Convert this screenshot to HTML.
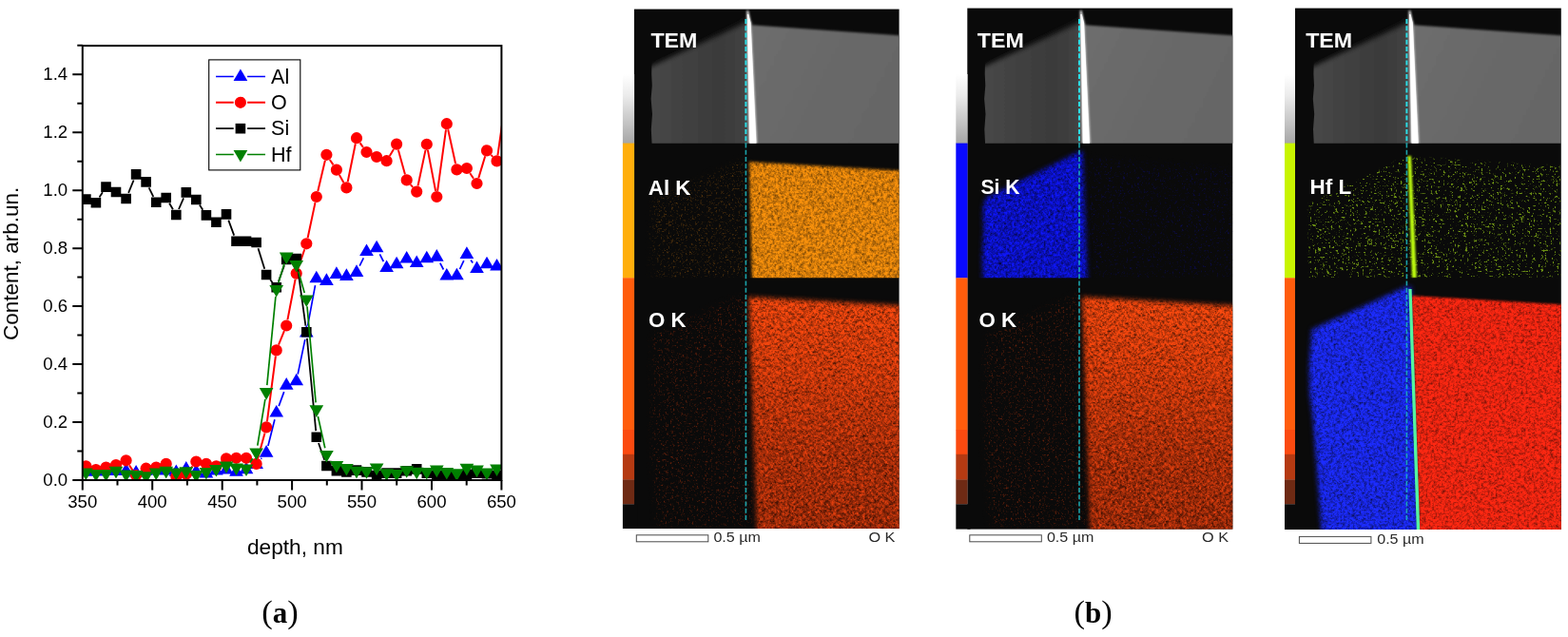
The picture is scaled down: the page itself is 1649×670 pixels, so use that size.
<!DOCTYPE html>
<html lang="en">
<head>
<meta charset="utf-8">
<title>Figure: depth profile and TEM/EDX maps</title>
<style>
html,body{margin:0;padding:0;background:#fff;}
body{width:1649px;height:670px;overflow:hidden;position:relative;font-family:"Liberation Sans",Arial,sans-serif;}
svg{position:absolute;left:0;top:0;display:block;}
</style>
</head>
<body>
<svg width="1649" height="670" viewBox="0 0 1649 670">
<defs>
<filter id="nOrange" x="-5%" y="-5%" width="110%" height="110%" color-interpolation-filters="sRGB"><feTurbulence type="fractalNoise" baseFrequency="0.6" numOctaves="2" seed="3" result="n"/><feGaussianBlur in="n" stdDeviation="0.8" result="nbl"/><feComposite in="n" in2="nbl" operator="arithmetic" k1="0" k2="0.25" k3="0.75" k4="0" result="nb"/><feColorMatrix in="nb" type="matrix" values="2.8 0 0 0 -0.56  2.8 0 0 0 -0.56  2.8 0 0 0 -0.56  0 0 0 0 1" result="m"/><feGaussianBlur in="SourceGraphic" stdDeviation="1.6" result="s"/><feComposite in="m" in2="s" operator="arithmetic" k1="1" k2="0" k3="0" k4="0"/></filter>
<filter id="nRed" x="-5%" y="-5%" width="110%" height="110%" color-interpolation-filters="sRGB"><feTurbulence type="fractalNoise" baseFrequency="0.6" numOctaves="2" seed="7" result="n"/><feGaussianBlur in="n" stdDeviation="0.8" result="nbl"/><feComposite in="n" in2="nbl" operator="arithmetic" k1="0" k2="0.25" k3="0.75" k4="0" result="nb"/><feColorMatrix in="nb" type="matrix" values="3.8 0 0 0 -1.08  3.8 0 0 0 -1.08  3.8 0 0 0 -1.08  0 0 0 0 1" result="m"/><feGaussianBlur in="SourceGraphic" stdDeviation="2.4" result="s"/><feComposite in="m" in2="s" operator="arithmetic" k1="1" k2="0" k3="0" k4="0"/></filter>
<filter id="nRed3" x="-5%" y="-5%" width="110%" height="110%" color-interpolation-filters="sRGB"><feTurbulence type="fractalNoise" baseFrequency="0.6" numOctaves="2" seed="11" result="n"/><feGaussianBlur in="n" stdDeviation="0.8" result="nbl"/><feComposite in="n" in2="nbl" operator="arithmetic" k1="0" k2="0.25" k3="0.75" k4="0" result="nb"/><feColorMatrix in="nb" type="matrix" values="3.0 0 0 0 -0.62  3.0 0 0 0 -0.62  3.0 0 0 0 -0.62  0 0 0 0 1" result="m"/><feGaussianBlur in="SourceGraphic" stdDeviation="1.2" result="s"/><feComposite in="m" in2="s" operator="arithmetic" k1="1" k2="0" k3="0" k4="0"/></filter>
<filter id="nBlue" x="-5%" y="-5%" width="110%" height="110%" color-interpolation-filters="sRGB"><feTurbulence type="fractalNoise" baseFrequency="0.6" numOctaves="2" seed="5" result="n"/><feGaussianBlur in="n" stdDeviation="0.8" result="nbl"/><feComposite in="n" in2="nbl" operator="arithmetic" k1="0" k2="0.25" k3="0.75" k4="0" result="nb"/><feColorMatrix in="nb" type="matrix" values="3.4 0 0 0 -0.86  3.4 0 0 0 -0.86  3.4 0 0 0 -0.86  0 0 0 0 1" result="m"/><feGaussianBlur in="SourceGraphic" stdDeviation="2.4" result="s"/><feComposite in="m" in2="s" operator="arithmetic" k1="1" k2="0" k3="0" k4="0"/></filter>
<filter id="nBlueK" x="-5%" y="-5%" width="110%" height="110%" color-interpolation-filters="sRGB"><feTurbulence type="fractalNoise" baseFrequency="0.6" numOctaves="2" seed="9" result="n"/><feGaussianBlur in="n" stdDeviation="0.8" result="nbl"/><feComposite in="n" in2="nbl" operator="arithmetic" k1="0" k2="0.25" k3="0.75" k4="0" result="nb"/><feColorMatrix in="nb" type="matrix" values="3.2 0 0 0 -0.86  3.2 0 0 0 -0.86  3.2 0 0 0 -0.86  0 0 0 0 1" result="m"/><feGaussianBlur in="SourceGraphic" stdDeviation="2.6" result="s"/><feComposite in="m" in2="s" operator="arithmetic" k1="1" k2="0" k3="0" k4="0"/></filter>
<filter id="dDark" x="-5%" y="-5%" width="110%" height="110%" color-interpolation-filters="sRGB"><feTurbulence type="fractalNoise" baseFrequency="0.6" numOctaves="2" seed="29" result="n"/><feGaussianBlur in="n" stdDeviation="0.8" result="nbl"/><feComposite in="n" in2="nbl" operator="arithmetic" k1="0" k2="0.2" k3="0.8" k4="0" result="nb"/><feColorMatrix in="nb" type="matrix" values="0 0 0 0 1  0 0 0 0 1  0 0 0 0 1  5.0 0 0 0 -2.2" result="m"/><feGaussianBlur in="SourceGraphic" stdDeviation="2.4" result="s"/><feComposite in="s" in2="m" operator="in"/></filter>
<linearGradient id="gDark" x1="0" y1="0" x2="0" y2="1"><stop offset="0" stop-color="#1a0500" stop-opacity="0"/><stop offset="0.3" stop-color="#1a0500" stop-opacity="0.15"/><stop offset="0.7" stop-color="#1a0500" stop-opacity="0.6"/><stop offset="1" stop-color="#1a0500" stop-opacity="0.75"/></linearGradient>
<linearGradient id="gOK" x1="0" y1="0" x2="0" y2="1"><stop offset="0" stop-color="#ff4c10"/><stop offset="0.3" stop-color="#f6460e"/><stop offset="0.65" stop-color="#e6400e"/><stop offset="1" stop-color="#e03e0e"/></linearGradient>
<filter id="dOrange" x="-5%" y="-5%" width="110%" height="110%" color-interpolation-filters="sRGB"><feTurbulence type="fractalNoise" baseFrequency="0.6" numOctaves="2" seed="13" result="n"/><feGaussianBlur in="n" stdDeviation="0.8" result="nbl"/><feComposite in="n" in2="nbl" operator="arithmetic" k1="0" k2="0.4" k3="0.6" k4="0" result="nb"/><feColorMatrix in="nb" type="matrix" values="0 0 0 0 1  0 0 0 0 1  0 0 0 0 1  5.0 0 0 0 -2.62" result="m"/><feGaussianBlur in="SourceGraphic" stdDeviation="3" result="s"/><feComposite in="s" in2="m" operator="in"/></filter>
<filter id="dRed" x="-5%" y="-5%" width="110%" height="110%" color-interpolation-filters="sRGB"><feTurbulence type="fractalNoise" baseFrequency="0.6" numOctaves="2" seed="17" result="n"/><feGaussianBlur in="n" stdDeviation="0.8" result="nbl"/><feComposite in="n" in2="nbl" operator="arithmetic" k1="0" k2="0.4" k3="0.6" k4="0" result="nb"/><feColorMatrix in="nb" type="matrix" values="0 0 0 0 1  0 0 0 0 1  0 0 0 0 1  5.0 0 0 0 -2.62" result="m"/><feGaussianBlur in="SourceGraphic" stdDeviation="3" result="s"/><feComposite in="s" in2="m" operator="in"/></filter>
<filter id="dBlue" x="-5%" y="-5%" width="110%" height="110%" color-interpolation-filters="sRGB"><feTurbulence type="fractalNoise" baseFrequency="0.6" numOctaves="2" seed="19" result="n"/><feGaussianBlur in="n" stdDeviation="0.8" result="nbl"/><feComposite in="n" in2="nbl" operator="arithmetic" k1="0" k2="0.4" k3="0.6" k4="0" result="nb"/><feColorMatrix in="nb" type="matrix" values="0 0 0 0 1  0 0 0 0 1  0 0 0 0 1  5.0 0 0 0 -2.66" result="m"/><feGaussianBlur in="SourceGraphic" stdDeviation="3" result="s"/><feComposite in="s" in2="m" operator="in"/></filter>
<filter id="dGreen" x="-5%" y="-5%" width="110%" height="110%" color-interpolation-filters="sRGB"><feTurbulence type="fractalNoise" baseFrequency="0.6" numOctaves="2" seed="23" result="n"/><feGaussianBlur in="n" stdDeviation="0.8" result="nbl"/><feComposite in="n" in2="nbl" operator="arithmetic" k1="0" k2="0.25" k3="0.75" k4="0" result="nb"/><feColorMatrix in="nb" type="matrix" values="0 0 0 0 1  0 0 0 0 1  0 0 0 0 1  18.0 0 0 0 -9.75" result="m"/><feGaussianBlur in="SourceGraphic" stdDeviation="0.8" result="s"/><feComposite in="s" in2="m" operator="in"/></filter>
<filter id="b06" x="-20%" y="-5%" width="140%" height="110%"><feGaussianBlur stdDeviation="0.8"/></filter>
<filter id="b1" x="-20%" y="-5%" width="140%" height="110%"><feGaussianBlur stdDeviation="1"/></filter>
<filter id="b2" x="-10%" y="-10%" width="120%" height="120%"><feGaussianBlur stdDeviation="2"/></filter>
<filter id="b3" x="-10%" y="-10%" width="120%" height="120%"><feGaussianBlur stdDeviation="2.6"/></filter>
<filter id="b4" x="-10%" y="-10%" width="120%" height="120%"><feGaussianBlur stdDeviation="4"/></filter>
<filter id="tb" x="-10%" y="-20%" width="120%" height="140%"><feGaussianBlur stdDeviation="0.8"/></filter>
<linearGradient id="gbar" x1="0" y1="0" x2="0" y2="1"><stop offset="0" stop-color="#ffffff"/><stop offset="0.3" stop-color="#ececec"/><stop offset="1" stop-color="#a6a6a6"/></linearGradient>
<linearGradient id="gSi" x1="0" y1="0" x2="1" y2="0"><stop offset="0" stop-color="#464646"/><stop offset="0.1" stop-color="#464646"/><stop offset="0.4" stop-color="#404040"/><stop offset="0.66" stop-color="#3a3a3a"/><stop offset="0.85" stop-color="#404040"/><stop offset="1" stop-color="#4e4e4e"/></linearGradient>
<linearGradient id="gAl" x1="0" y1="0" x2="1" y2="0.4"><stop offset="0" stop-color="#6e6e6e"/><stop offset="0.5" stop-color="#696969"/><stop offset="1" stop-color="#666666"/></linearGradient>
</defs>
<rect x="0" y="0" width="1649" height="670" fill="#fff"/>
<clipPath id="plotclip"><rect x="86.8" y="48.1" width="440.59999999999997" height="457.5"/></clipPath>
<g clip-path="url(#plotclip)">
<path d="M274.4 482.8L275.3 481.8M281.9 469.0L288.9 441.2M293.2 427.1L298.7 412.1M313.2 393.6L320.8 357.2M323.6 342.7L331.5 300.1M378.2 279.7L382.3 271.3M399.4 267.4L403.3 275.0M462.8 276.7L466.4 283.5M483.5 283.1L487.8 274.1M495.1 273.5L497.2 276.5" stroke="#0000ff" stroke-width="1.7" fill="none"/><path d="M90.4 488.1l7.35 12.6h-14.7zM100.9 487.9l7.35 12.6h-14.7zM111.5 487.5l7.35 12.6h-14.7zM122.0 487.5l7.35 12.6h-14.7zM132.6 487.1l7.35 12.6h-14.7zM143.1 489.0l7.35 12.6h-14.7zM153.6 487.2l7.35 12.6h-14.7zM164.2 485.9l7.35 12.6h-14.7zM174.7 486.9l7.35 12.6h-14.7zM185.3 488.4l7.35 12.6h-14.7zM195.8 485.1l7.35 12.6h-14.7zM206.3 487.9l7.35 12.6h-14.7zM216.9 489.9l7.35 12.6h-14.7zM227.4 486.9l7.35 12.6h-14.7zM238.0 485.9l7.35 12.6h-14.7zM248.5 488.1l7.35 12.6h-14.7zM259.0 485.7l7.35 12.6h-14.7zM269.6 480.3l7.35 12.6h-14.7zM280.1 468.1l7.35 12.6h-14.7zM290.7 425.9l7.35 12.6h-14.7zM301.2 397.1l7.35 12.6h-14.7zM311.7 392.7l7.35 12.6h-14.7zM322.3 341.9l7.35 12.6h-14.7zM332.8 284.7l7.35 12.6h-14.7zM343.4 287.3l7.35 12.6h-14.7zM353.9 280.3l7.35 12.6h-14.7zM364.4 282.3l7.35 12.6h-14.7zM375.0 278.3l7.35 12.6h-14.7zM385.5 256.5l7.35 12.6h-14.7zM396.1 252.7l7.35 12.6h-14.7zM406.6 273.5l7.35 12.6h-14.7zM417.1 269.7l7.35 12.6h-14.7zM427.7 263.9l7.35 12.6h-14.7zM438.2 268.5l7.35 12.6h-14.7zM448.8 263.7l7.35 12.6h-14.7zM459.3 262.1l7.35 12.6h-14.7zM469.8 281.9l7.35 12.6h-14.7zM480.4 281.7l7.35 12.6h-14.7zM490.9 259.3l7.35 12.6h-14.7zM501.5 274.5l7.35 12.6h-14.7zM512.0 269.7l7.35 12.6h-14.7zM522.5 271.9l7.35 12.6h-14.7zM533.1 270.9l7.35 12.6h-14.7z" fill="#0000ff"/>
<path d="M136.0 489.4L139.6 494.9M178.6 492.8L181.4 496.3M199.7 493.9L202.5 490.4M232.4 486.6L233.0 486.1M271.2 481.9L278.5 455.4M280.9 443.3L289.9 374.5M293.0 362.7L298.9 348.2M302.4 336.4L310.6 293.7M313.7 281.7L320.3 262.2M323.6 250.2L331.5 213.1M334.3 201.0L341.9 168.8M346.8 168.0L350.5 173.4M356.9 184.0L361.4 192.0M365.7 191.3L373.8 151.3M378.6 150.3L381.9 154.9M409.8 163.9L414.0 156.9M418.8 157.6L426.0 183.4M431.7 194.1L434.2 196.9M439.5 195.5L447.5 157.9M449.9 157.9L458.1 200.9M460.1 200.9L469.0 136.3M471.2 136.3L479.1 172.3M494.3 182.2L498.0 187.8M503.3 187.1L510.2 164.3M516.3 162.9L518.3 164.9M523.4 163.3L532.2 102.1" stroke="#ff0000" stroke-width="2" fill="none"/><path d="M84.3 490.3a6.1 6.1 0 1 0 12.2 0a6.1 6.1 0 1 0 -12.2 0zM94.8 494.0a6.1 6.1 0 1 0 12.2 0a6.1 6.1 0 1 0 -12.2 0zM105.4 491.5a6.1 6.1 0 1 0 12.2 0a6.1 6.1 0 1 0 -12.2 0zM115.9 489.1a6.1 6.1 0 1 0 12.2 0a6.1 6.1 0 1 0 -12.2 0zM126.5 484.3a6.1 6.1 0 1 0 12.2 0a6.1 6.1 0 1 0 -12.2 0zM137.0 500.0a6.1 6.1 0 1 0 12.2 0a6.1 6.1 0 1 0 -12.2 0zM147.5 492.7a6.1 6.1 0 1 0 12.2 0a6.1 6.1 0 1 0 -12.2 0zM158.1 491.5a6.1 6.1 0 1 0 12.2 0a6.1 6.1 0 1 0 -12.2 0zM168.6 487.9a6.1 6.1 0 1 0 12.2 0a6.1 6.1 0 1 0 -12.2 0zM179.2 501.2a6.1 6.1 0 1 0 12.2 0a6.1 6.1 0 1 0 -12.2 0zM189.7 498.8a6.1 6.1 0 1 0 12.2 0a6.1 6.1 0 1 0 -12.2 0zM200.2 485.5a6.1 6.1 0 1 0 12.2 0a6.1 6.1 0 1 0 -12.2 0zM210.8 487.9a6.1 6.1 0 1 0 12.2 0a6.1 6.1 0 1 0 -12.2 0zM221.3 490.3a6.1 6.1 0 1 0 12.2 0a6.1 6.1 0 1 0 -12.2 0zM231.9 482.4a6.1 6.1 0 1 0 12.2 0a6.1 6.1 0 1 0 -12.2 0zM242.4 481.8a6.1 6.1 0 1 0 12.2 0a6.1 6.1 0 1 0 -12.2 0zM252.9 481.8a6.1 6.1 0 1 0 12.2 0a6.1 6.1 0 1 0 -12.2 0zM263.5 487.9a6.1 6.1 0 1 0 12.2 0a6.1 6.1 0 1 0 -12.2 0zM274.0 449.4a6.1 6.1 0 1 0 12.2 0a6.1 6.1 0 1 0 -12.2 0zM284.6 368.4a6.1 6.1 0 1 0 12.2 0a6.1 6.1 0 1 0 -12.2 0zM295.1 342.5a6.1 6.1 0 1 0 12.2 0a6.1 6.1 0 1 0 -12.2 0zM305.6 287.6a6.1 6.1 0 1 0 12.2 0a6.1 6.1 0 1 0 -12.2 0zM316.2 256.3a6.1 6.1 0 1 0 12.2 0a6.1 6.1 0 1 0 -12.2 0zM326.7 207.0a6.1 6.1 0 1 0 12.2 0a6.1 6.1 0 1 0 -12.2 0zM337.3 162.8a6.1 6.1 0 1 0 12.2 0a6.1 6.1 0 1 0 -12.2 0zM347.8 178.6a6.1 6.1 0 1 0 12.2 0a6.1 6.1 0 1 0 -12.2 0zM358.3 197.4a6.1 6.1 0 1 0 12.2 0a6.1 6.1 0 1 0 -12.2 0zM368.9 145.2a6.1 6.1 0 1 0 12.2 0a6.1 6.1 0 1 0 -12.2 0zM379.4 160.0a6.1 6.1 0 1 0 12.2 0a6.1 6.1 0 1 0 -12.2 0zM390.0 165.0a6.1 6.1 0 1 0 12.2 0a6.1 6.1 0 1 0 -12.2 0zM400.5 169.2a6.1 6.1 0 1 0 12.2 0a6.1 6.1 0 1 0 -12.2 0zM411.0 151.6a6.1 6.1 0 1 0 12.2 0a6.1 6.1 0 1 0 -12.2 0zM421.6 189.4a6.1 6.1 0 1 0 12.2 0a6.1 6.1 0 1 0 -12.2 0zM432.1 201.6a6.1 6.1 0 1 0 12.2 0a6.1 6.1 0 1 0 -12.2 0zM442.7 151.8a6.1 6.1 0 1 0 12.2 0a6.1 6.1 0 1 0 -12.2 0zM453.2 207.0a6.1 6.1 0 1 0 12.2 0a6.1 6.1 0 1 0 -12.2 0zM463.7 130.2a6.1 6.1 0 1 0 12.2 0a6.1 6.1 0 1 0 -12.2 0zM474.3 178.4a6.1 6.1 0 1 0 12.2 0a6.1 6.1 0 1 0 -12.2 0zM484.8 177.0a6.1 6.1 0 1 0 12.2 0a6.1 6.1 0 1 0 -12.2 0zM495.4 193.0a6.1 6.1 0 1 0 12.2 0a6.1 6.1 0 1 0 -12.2 0zM505.9 158.4a6.1 6.1 0 1 0 12.2 0a6.1 6.1 0 1 0 -12.2 0zM516.4 169.4a6.1 6.1 0 1 0 12.2 0a6.1 6.1 0 1 0 -12.2 0zM527.0 96.0a6.1 6.1 0 1 0 12.2 0a6.1 6.1 0 1 0 -12.2 0z" fill="#ff0000"/>
<path d="M104.5 207.6L107.9 202.2M135.1 202.9L140.6 189.5M156.6 197.3L161.3 206.9M178.1 213.7L181.9 220.3M188.0 220.0L193.1 208.4M209.9 215.6L213.3 220.8M240.3 231.6L246.2 247.6M271.5 261.3L278.2 282.7M284.2 294.2L286.5 297.0M292.9 296.0L299.0 279.2M312.6 278.5L321.4 342.7M322.9 355.8L332.2 453.2M335.0 466.0L341.2 483.8" stroke="#000000" stroke-width="1.8" fill="none"/><path d="M85.1 204.3h10.6v10.6h-10.6zM95.6 207.9h10.6v10.6h-10.6zM106.2 191.3h10.6v10.6h-10.6zM116.7 196.7h10.6v10.6h-10.6zM127.3 203.7h10.6v10.6h-10.6zM137.8 178.1h10.6v10.6h-10.6zM148.3 186.1h10.6v10.6h-10.6zM158.9 207.5h10.6v10.6h-10.6zM169.4 202.7h10.6v10.6h-10.6zM180.0 220.7h10.6v10.6h-10.6zM190.5 197.1h10.6v10.6h-10.6zM201.0 204.7h10.6v10.6h-10.6zM211.6 221.1h10.6v10.6h-10.6zM222.1 228.5h10.6v10.6h-10.6zM232.7 220.1h10.6v10.6h-10.6zM243.2 248.5h10.6v10.6h-10.6zM253.7 248.5h10.6v10.6h-10.6zM264.3 249.7h10.6v10.6h-10.6zM274.8 283.7h10.6v10.6h-10.6zM285.4 296.9h10.6v10.6h-10.6zM295.9 267.7h10.6v10.6h-10.6zM306.4 266.7h10.6v10.6h-10.6zM317.0 343.9h10.6v10.6h-10.6zM327.5 454.5h10.6v10.6h-10.6zM338.1 484.7h10.6v10.6h-10.6zM348.6 489.9h10.6v10.6h-10.6zM359.1 491.1h10.6v10.6h-10.6zM369.7 489.3h10.6v10.6h-10.6zM380.2 491.1h10.6v10.6h-10.6zM390.8 494.7h10.6v10.6h-10.6zM401.3 492.3h10.6v10.6h-10.6zM411.8 492.3h10.6v10.6h-10.6zM422.4 489.9h10.6v10.6h-10.6zM432.9 488.1h10.6v10.6h-10.6zM443.5 492.3h10.6v10.6h-10.6zM454.0 494.7h10.6v10.6h-10.6zM464.5 494.7h10.6v10.6h-10.6zM475.1 494.7h10.6v10.6h-10.6zM485.6 493.5h10.6v10.6h-10.6zM496.2 492.3h10.6v10.6h-10.6zM506.7 492.9h10.6v10.6h-10.6zM517.2 494.7h10.6v10.6h-10.6zM527.8 493.7h10.6v10.6h-10.6z" fill="#000000"/>
<path d="M262.9 486.6L265.7 482.2M270.8 468.6L278.9 419.9M280.8 405.2L289.9 311.9M292.8 297.4L299.0 277.2M313.8 285.5L320.2 307.9M323.0 322.4L332.1 423.4M334.4 438.0L341.8 471.3" stroke="#008000" stroke-width="1.7" fill="none"/><path d="M90.4 505.2l7.35 -12.6h-14.7zM100.9 506.5l7.35 -12.6h-14.7zM111.5 506.5l7.35 -12.6h-14.7zM122.0 503.4l7.35 -12.6h-14.7zM132.6 507.1l7.35 -12.6h-14.7zM143.1 507.7l7.35 -12.6h-14.7zM153.6 508.9l7.35 -12.6h-14.7zM164.2 505.2l7.35 -12.6h-14.7zM174.7 503.4l7.35 -12.6h-14.7zM185.3 505.2l7.35 -12.6h-14.7zM195.8 503.8l7.35 -12.6h-14.7zM206.3 507.7l7.35 -12.6h-14.7zM216.9 504.6l7.35 -12.6h-14.7zM227.4 501.6l7.35 -12.6h-14.7zM238.0 498.0l7.35 -12.6h-14.7zM248.5 500.2l7.35 -12.6h-14.7zM259.0 501.0l7.35 -12.6h-14.7zM269.6 484.0l7.35 -12.6h-14.7zM280.1 420.7l7.35 -12.6h-14.7zM290.7 312.6l7.35 -12.6h-14.7zM301.2 278.2l7.35 -12.6h-14.7zM311.7 286.5l7.35 -12.6h-14.7zM322.3 323.1l7.35 -12.6h-14.7zM332.8 438.9l7.35 -12.6h-14.7zM343.4 486.6l7.35 -12.6h-14.7zM353.9 497.6l7.35 -12.6h-14.7zM364.4 500.6l7.35 -12.6h-14.7zM375.0 503.4l7.35 -12.6h-14.7zM385.5 503.8l7.35 -12.6h-14.7zM396.1 500.2l7.35 -12.6h-14.7zM406.6 505.9l7.35 -12.6h-14.7zM417.1 506.5l7.35 -12.6h-14.7zM427.7 502.8l7.35 -12.6h-14.7zM438.2 504.3l7.35 -12.6h-14.7zM448.8 504.6l7.35 -12.6h-14.7zM459.3 502.2l7.35 -12.6h-14.7zM469.8 504.6l7.35 -12.6h-14.7zM480.4 505.9l7.35 -12.6h-14.7zM490.9 500.4l7.35 -12.6h-14.7zM501.5 502.2l7.35 -12.6h-14.7zM512.0 505.2l7.35 -12.6h-14.7zM522.5 501.0l7.35 -12.6h-14.7zM533.1 504.1l7.35 -12.6h-14.7z" fill="#008000"/>
</g>
<rect x="86.8" y="48.1" width="440.59999999999997" height="456.9" fill="none" stroke="#000" stroke-width="2"/>
<path d="M76.3 505.0H86.8M81.3 474.5H86.8M76.3 444.0H86.8M81.3 413.6H86.8M76.3 383.1H86.8M81.3 352.6H86.8M76.3 322.1H86.8M81.3 291.6H86.8M76.3 261.2H86.8M81.3 230.7H86.8M76.3 200.2H86.8M81.3 169.7H86.8M76.3 139.3H86.8M81.3 108.8H86.8M76.3 78.3H86.8M81.3 47.8H86.8M86.8 505.0V515.5M123.5 505.0V510.5M160.2 505.0V515.5M196.9 505.0V510.5M233.7 505.0V515.5M270.4 505.0V510.5M307.1 505.0V515.5M343.8 505.0V510.5M380.5 505.0V515.5M417.2 505.0V510.5M454.0 505.0V515.5M490.7 505.0V510.5M527.4 505.0V515.5" stroke="#000" stroke-width="2" fill="none"/>
<g font-family="&quot;Liberation Sans&quot;, Arial, sans-serif" font-size="18.6" fill="#000">
<text x="71.2" y="510.8" text-anchor="end">0.0</text>
<text x="71.2" y="449.8" text-anchor="end">0.2</text>
<text x="71.2" y="388.9" text-anchor="end">0.4</text>
<text x="71.2" y="327.9" text-anchor="end">0.6</text>
<text x="71.2" y="267.0" text-anchor="end">0.8</text>
<text x="71.2" y="206.0" text-anchor="end">1.0</text>
<text x="71.2" y="145.1" text-anchor="end">1.2</text>
<text x="71.2" y="84.1" text-anchor="end">1.4</text>
<text x="86.8" y="534.3" text-anchor="middle">350</text>
<text x="160.2" y="534.3" text-anchor="middle">400</text>
<text x="233.7" y="534.3" text-anchor="middle">450</text>
<text x="307.1" y="534.3" text-anchor="middle">500</text>
<text x="380.5" y="534.3" text-anchor="middle">550</text>
<text x="454.0" y="534.3" text-anchor="middle">600</text>
<text x="527.4" y="534.3" text-anchor="middle">650</text>
</g>
<text x="260" y="583.1" textLength="100.8" lengthAdjust="spacingAndGlyphs" font-family="&quot;Liberation Sans&quot;, Arial, sans-serif" font-size="22" fill="#000">depth, nm</text>
<text transform="translate(19.3,277.4) rotate(-90)" text-anchor="middle" font-family="&quot;Liberation Sans&quot;, Arial, sans-serif" font-size="22.5" fill="#000">Content, arb.un.</text>
<rect x="219.7" y="62.9" width="96.1" height="116" fill="#fff" stroke="#000" stroke-width="1.1"/>
<path d="M227 80.5H245.7M260.1 80.5H279" stroke="#0000ff" stroke-width="1.4" fill="none"/>
<path d="M252.9 72.4l7.35 12.6h-14.7z" fill="#0000ff"/>
<text x="285.1" y="87.7" font-family="&quot;Liberation Sans&quot;, Arial, sans-serif" font-size="21.5" fill="#000">Al</text>
<path d="M227 107.8H245.7M260.1 107.8H279" stroke="#ff0000" stroke-width="2" fill="none"/>
<path d="M246.8 107.8a6.1 6.1 0 1 0 12.2 0a6.1 6.1 0 1 0 -12.2 0z" fill="#ff0000"/>
<text x="285.1" y="115.0" font-family="&quot;Liberation Sans&quot;, Arial, sans-serif" font-size="21.5" fill="#000">O</text>
<path d="M227 135.2H245.7M260.1 135.2H279" stroke="#000000" stroke-width="1.7" fill="none"/>
<path d="M247.6 129.9h10.6v10.6h-10.6z" fill="#000000"/>
<text x="285.1" y="142.4" font-family="&quot;Liberation Sans&quot;, Arial, sans-serif" font-size="21.5" fill="#000">Si</text>
<path d="M227 162.5H245.7M260.1 162.5H279" stroke="#008000" stroke-width="1.6" fill="none"/>
<path d="M252.9 170.6l7.35 -12.6h-14.7z" fill="#008000"/>
<text x="285.1" y="169.7" font-family="&quot;Liberation Sans&quot;, Arial, sans-serif" font-size="21.5" fill="#000">Hf</text>
<text x="294.6" y="654.6" text-anchor="middle" font-family="&quot;Liberation Serif&quot;, &quot;Times New Roman&quot;, serif" font-size="34.5" fill="#000">(<tspan font-weight="bold" font-size="31">a</tspan>)</text>
<text x="1149.6" y="654.6" text-anchor="middle" font-family="&quot;Liberation Serif&quot;, &quot;Times New Roman&quot;, serif" font-size="34.5" fill="#000">(<tspan font-weight="bold" font-size="31">b</tspan>)</text>
<clipPath id="p1"><rect x="666.9" y="9.6" width="278.70000000000005" height="546.4"/></clipPath><clipPath id="p1t"><rect x="666.9" y="9.6" width="278.70000000000005" height="141.20000000000002"/></clipPath><clipPath id="p1m"><rect x="666.9" y="151" width="278.70000000000005" height="141.3"/></clipPath><clipPath id="p1o"><rect x="666.9" y="292.3" width="278.70000000000005" height="263.7"/></clipPath><rect x="666.9" y="9.6" width="278.70000000000005" height="546.4" fill="#0a0a0a"/>
<rect x="654.9" y="78" width="12.2" height="73" fill="url(#gbar)"/>
<rect x="654.9" y="150.6" width="12.2" height="142" fill="#ffae0c"/>
<rect x="654.9" y="292.3" width="12.2" height="160" fill="#ff5c0c"/>
<rect x="654.9" y="452" width="12.2" height="26" fill="#fb4a10"/>
<rect x="654.9" y="477.8" width="12.2" height="27" fill="#b53a12"/>
<rect x="654.9" y="504.5" width="12.2" height="26" fill="#6e2a14"/>
<rect x="654.9" y="530.3" width="15.2" height="25.7" fill="#0a0a0a"/>
<clipPath id="p1s"><polygon points="685.6,152.0 684.8,136.0 686.0,120.0 684.6,104.0 685.8,90.0 685.2,78.0 685.6,60.0 700.0,10.0 800.0,10.0 800.0,152.0"/></clipPath>
<g clip-path="url(#p1t)">
<g clip-path="url(#p1s)">
<polygon points="686.0,72.0 779.0,27.0 786.0,20.0 786.0,44.0 700.0,78.0" fill="#2c2c2c" filter="url(#b4)"/>
<polygon points="680.0,160.0 680.0,70.5 686.5,69.5 779.0,27.5 786.0,24.2 790.0,24.2 796.0,160.0" fill="url(#gSi)" filter="url(#b3)"/>
</g>
<polygon points="789.5,26.3 952.0,37.6 952.0,158.0 794.8,158.0" fill="url(#gAl)" filter="url(#b1)"/>
<polygon points="785.4,11.0 787.0,11.0 789.8,24.0 796.0,151.0 787.6,151.0 785.4,24.0" fill="#ffffff" filter="url(#b1)"/>
<polygon points="785.8,15.0 787.2,15.0 789.6,24.0 795.4,151.0 788.4,151.0 786.0,24.0" fill="#ffffff"/>
</g>
<g clip-path="url(#p1m)">
<polygon points="685.6,292.4 684.8,277.4 686.0,261.4 684.6,245.4 685.8,231.4 685.4,219.4 687.2,210.4 779.0,168.9 786.0,165.6 786.0,166.0 787.0,293.0 684.0,293.0" fill="#74460e" filter="url(#dOrange)"/>
<polygon points="787.8,170.2 952.0,179.8 952.0,299.0 791.0,299.0" fill="#fa920c" filter="url(#nOrange)"/>
</g>
<g clip-path="url(#p1o)"><polygon points="684.8,419.0 686.0,403.0 684.6,387.0 685.8,373.0 685.4,361.0 687.2,352.0 779.0,310.5 786.0,307.2 787.0,308.0 793.0,553.0 691.0,553.0 686.0,480.0" fill="#7a260c" filter="url(#dRed)"/>
<polygon points="787.6,312.2 953.0,321.8 953.0,563.0 796.4,563.0" fill="url(#gOK)" filter="url(#nRed)"/>
<polygon points="789.6,314.2 953.0,323.8 953.0,563.0 798.4,563.0" fill="url(#gDark)" filter="url(#dDark)"/></g>
<path d="M784.4 20V151.4" stroke="#2cdce4" stroke-width="2" stroke-dasharray="5 2.25" fill="none"/><path d="M784.4 151.4V547" stroke="#1cb2ba" stroke-opacity="0.9" stroke-width="1.6" stroke-dasharray="5 2.25" stroke-dashoffset="0.85" fill="none"/>
<text x="684.4" y="50.1" font-family="&quot;Liberation Sans&quot;, Arial, sans-serif" font-weight="bold" font-size="22.3" fill="#ffffff" textLength="49.0" lengthAdjust="spacingAndGlyphs">TEM</text>
<text x="681.8" y="204.8" font-family="&quot;Liberation Sans&quot;, Arial, sans-serif" font-weight="bold" font-size="22.3" fill="#ffffff" textLength="44.6" lengthAdjust="spacingAndGlyphs">Al K</text>
<text x="682.0" y="344.4" font-family="&quot;Liberation Sans&quot;, Arial, sans-serif" font-weight="bold" font-size="22.3" fill="#ffffff" textLength="39.6" lengthAdjust="spacingAndGlyphs">O K</text>
<rect x="669.3" y="562.8" width="75.5" height="7" fill="#ffffff" stroke="#4a4a4a" stroke-width="1"/>
<text x="750.4" y="570.3" font-family="&quot;Liberation Sans&quot;, Arial, sans-serif" font-size="14.4" fill="#2a2a2a" textLength="49.5" lengthAdjust="spacingAndGlyphs">0.5 µm</text>
<text x="913.4" y="570.3" font-family="&quot;Liberation Sans&quot;, Arial, sans-serif" font-size="14.4" fill="#2a2a2a" textLength="28" lengthAdjust="spacingAndGlyphs">O K</text>
<clipPath id="p2"><rect x="1017.3" y="8.6" width="279.0" height="548.0"/></clipPath><clipPath id="p2t"><rect x="1017.3" y="8.6" width="279.0" height="142.20000000000002"/></clipPath><clipPath id="p2m"><rect x="1017.3" y="151" width="279.0" height="141.3"/></clipPath><clipPath id="p2o"><rect x="1017.3" y="292.3" width="279.0" height="264.3"/></clipPath><rect x="1017.3" y="8.6" width="279.0" height="548.0" fill="#0a0a0a"/>
<rect x="1005.3" y="78" width="12.2" height="73" fill="url(#gbar)"/>
<rect x="1005.3" y="150.6" width="12.2" height="142" fill="#0a0aff"/>
<rect x="1005.3" y="292.3" width="12.2" height="160" fill="#ff5c0c"/>
<rect x="1005.3" y="452" width="12.2" height="26" fill="#fb4a10"/>
<rect x="1005.3" y="477.8" width="12.2" height="27" fill="#b53a12"/>
<rect x="1005.3" y="504.5" width="12.2" height="26" fill="#6e2a14"/>
<rect x="1005.3" y="530.3" width="15.2" height="26.3" fill="#0a0a0a"/>
<clipPath id="p2s"><polygon points="1036.1,152.0 1035.3,136.0 1036.5,120.0 1035.1,104.0 1036.3,90.0 1035.7,78.0 1036.1,60.0 1050.5,10.0 1150.5,10.0 1150.5,152.0"/></clipPath>
<g clip-path="url(#p2t)">
<g clip-path="url(#p2s)">
<polygon points="1036.5,72.0 1129.5,27.0 1136.5,20.0 1136.5,44.0 1050.5,78.0" fill="#2c2c2c" filter="url(#b4)"/>
<polygon points="1030.5,160.0 1030.5,70.5 1037.0,69.5 1129.5,27.5 1136.5,24.2 1140.5,24.2 1146.5,160.0" fill="url(#gSi)" filter="url(#b3)"/>
</g>
<polygon points="1140.0,26.3 1302.5,37.6 1302.5,158.0 1145.3,158.0" fill="url(#gAl)" filter="url(#b1)"/>
<polygon points="1135.9,11.0 1137.5,11.0 1140.3,24.0 1146.5,151.0 1138.1,151.0 1135.9,24.0" fill="#ffffff" filter="url(#b1)"/>
<polygon points="1136.3,15.0 1137.7,15.0 1140.1,24.0 1145.9,151.0 1138.9,151.0 1136.5,24.0" fill="#ffffff"/>
</g>
<g clip-path="url(#p2m)">
<polygon points="1140.0,166.0 1296.0,178.0 1296.0,292.0 1146.0,292.0" fill="#0c0c60" filter="url(#dBlue)"/>
<polygon points="1033.8,299.0 1032.8,270.0 1034.4,240.0 1033.4,222.0 1036.0,209.0 1133.0,160.5 1138.5,159.0 1143.8,299.0" fill="#0e16fa" filter="url(#nBlueK)"/>
</g>
<g clip-path="url(#p2o)"><polygon points="1035.3,419.0 1036.5,403.0 1035.1,387.0 1036.3,373.0 1035.9,361.0 1037.7,352.0 1129.5,310.5 1136.5,307.2 1137.5,308.0 1143.5,553.0 1041.5,553.0 1036.5,480.0" fill="#7a260c" filter="url(#dRed)"/>
<polygon points="1138.1,312.2 1303.5,321.8 1303.5,563.0 1146.9,563.0" fill="url(#gOK)" filter="url(#nRed)"/>
<polygon points="1140.1,314.2 1303.5,323.8 1303.5,563.0 1148.9,563.0" fill="url(#gDark)" filter="url(#dDark)"/></g>
<path d="M1135 20V151.4" stroke="#2cdce4" stroke-width="2" stroke-dasharray="5 2.25" fill="none"/><path d="M1135 151.4V547" stroke="#1cb2ba" stroke-opacity="0.9" stroke-width="1.6" stroke-dasharray="5 2.25" stroke-dashoffset="0.85" fill="none"/>
<text x="1027.8" y="50.1" font-family="&quot;Liberation Sans&quot;, Arial, sans-serif" font-weight="bold" font-size="22.3" fill="#ffffff" textLength="49.0" lengthAdjust="spacingAndGlyphs">TEM</text>
<text x="1031.4" y="204.2" font-family="&quot;Liberation Sans&quot;, Arial, sans-serif" font-weight="bold" font-size="22.3" fill="#ffffff" textLength="41" lengthAdjust="spacingAndGlyphs">Si K</text>
<text x="1029.6" y="344.4" font-family="&quot;Liberation Sans&quot;, Arial, sans-serif" font-weight="bold" font-size="22.3" fill="#ffffff" textLength="39.6" lengthAdjust="spacingAndGlyphs">O K</text>
<rect x="1019.8" y="562.8" width="75.5" height="7" fill="#ffffff" stroke="#4a4a4a" stroke-width="1"/>
<text x="1100.9" y="570.3" font-family="&quot;Liberation Sans&quot;, Arial, sans-serif" font-size="14.4" fill="#2a2a2a" textLength="49.5" lengthAdjust="spacingAndGlyphs">0.5 µm</text>
<text x="1264" y="570.3" font-family="&quot;Liberation Sans&quot;, Arial, sans-serif" font-size="14.4" fill="#2a2a2a" textLength="28" lengthAdjust="spacingAndGlyphs">O K</text>
<clipPath id="p3"><rect x="1362.0" y="8.6" width="279.79999999999995" height="548.4"/></clipPath><clipPath id="p3t"><rect x="1362.0" y="8.6" width="279.79999999999995" height="142.20000000000002"/></clipPath><clipPath id="p3m"><rect x="1362.0" y="151" width="279.79999999999995" height="141.3"/></clipPath><clipPath id="p3o"><rect x="1362.0" y="292.3" width="279.79999999999995" height="264.7"/></clipPath><rect x="1362.0" y="8.6" width="279.79999999999995" height="548.4" fill="#0a0a0a"/>
<rect x="1351.0" y="78" width="11.0" height="73" fill="url(#gbar)"/>
<rect x="1351.0" y="150.6" width="11.0" height="142" fill="#c8f400"/>
<rect x="1351.0" y="292.3" width="11.0" height="160" fill="#ff5c0c"/>
<rect x="1351.0" y="452" width="11.0" height="26" fill="#fb4a10"/>
<rect x="1351.0" y="477.8" width="11.0" height="27" fill="#b53a12"/>
<rect x="1351.0" y="504.5" width="11.0" height="26" fill="#6e2a14"/>
<rect x="1351.0" y="530.3" width="14.0" height="26.7" fill="#0a0a0a"/>
<clipPath id="p3s"><polygon points="1381.8,152.0 1381.0,136.0 1382.2,120.0 1380.8,104.0 1382.0,90.0 1381.4,78.0 1381.8,60.0 1396.2,10.0 1496.2,10.0 1496.2,152.0"/></clipPath>
<g clip-path="url(#p3t)">
<g clip-path="url(#p3s)">
<polygon points="1382.2,72.0 1475.2,27.0 1482.2,20.0 1482.2,44.0 1396.2,78.0" fill="#2c2c2c" filter="url(#b4)"/>
<polygon points="1376.2,160.0 1376.2,70.5 1382.7,69.5 1475.2,27.5 1482.2,24.2 1486.2,24.2 1492.2,160.0" fill="url(#gSi)" filter="url(#b3)"/>
</g>
<polygon points="1485.7,26.3 1648.2,37.6 1648.2,158.0 1491.0,158.0" fill="url(#gAl)" filter="url(#b1)"/>
<polygon points="1481.6,11.0 1483.2,11.0 1486.0,24.0 1492.2,151.0 1483.8,151.0 1481.6,24.0" fill="#ffffff" filter="url(#b1)"/>
<polygon points="1482.0,15.0 1483.4,15.0 1485.8,24.0 1491.6,151.0 1484.6,151.0 1482.2,24.0" fill="#ffffff"/>
</g>
<g clip-path="url(#p3m)">
<polygon points="1376.0,215.0 1478.0,165.0 1641.8,175.0 1641.8,292.0 1376.0,292.0" fill="#6e9214" filter="url(#dGreen)"/>
<polygon points="1480.4,164.0 1484.0,164.0 1489.8,292.6 1485.0,292.6" fill="#c0ff10" filter="url(#b06)"/>
</g>
<g clip-path="url(#p3o)">
<polygon points="1379.6,346.5 1479.0,301.5 1484.0,301.5 1492.2,563.0 1390.2,563.0 1380.8,440.0 1377.6,416.0 1376.8,387.0" fill="#1c2cff" filter="url(#nBlue)"/>
<polygon points="1484.6,311.0 1648.0,320.6 1648.0,563.0 1492.8,563.0" fill="#ff2812" filter="url(#nRed3)"/>
<polygon points="1481.4,304.0 1484.6,304.0 1493.2,557.5 1489.8,557.5" fill="#54f4a0"/>
</g>
<path d="M1479.4 20V151.4" stroke="#2cdce4" stroke-width="2" stroke-dasharray="5 2.25" fill="none"/><path d="M1479.4 151.4V547" stroke="#1cb2ba" stroke-opacity="0.9" stroke-width="1.6" stroke-dasharray="5 2.25" stroke-dashoffset="0.85" fill="none"/>
<text x="1373.2" y="50.1" font-family="&quot;Liberation Sans&quot;, Arial, sans-serif" font-weight="bold" font-size="22.3" fill="#ffffff" textLength="49.0" lengthAdjust="spacingAndGlyphs">TEM</text>
<text x="1377.6" y="204.2" font-family="&quot;Liberation Sans&quot;, Arial, sans-serif" font-weight="bold" font-size="22.3" fill="#ffffff" textLength="43.6" lengthAdjust="spacingAndGlyphs">Hf L</text>
<rect x="1366.4" y="564.4" width="75.5" height="7" fill="#ffffff" stroke="#4a4a4a" stroke-width="1"/>
<text x="1448.2" y="571.9" font-family="&quot;Liberation Sans&quot;, Arial, sans-serif" font-size="14.4" fill="#2a2a2a" textLength="49.5" lengthAdjust="spacingAndGlyphs">0.5 µm</text>
</svg>
</body>
</html>
